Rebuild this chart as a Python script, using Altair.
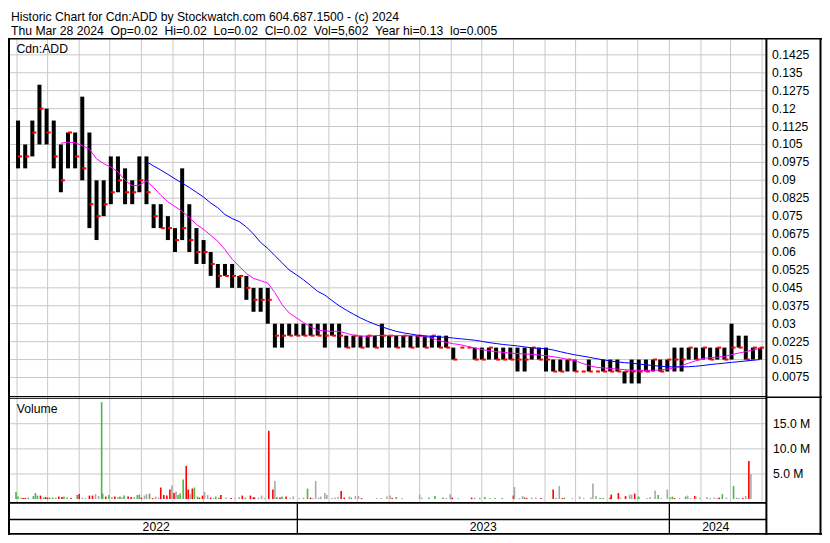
import altair as alt
import pandas as pd

FONT = "Liberation Sans"
W, H = 814, 527
GRID = "#c8c8c8"

# ---------------- text ----------------
header1 = "Historic Chart for Cdn:ADD by Stockwatch.com 604.687.1500 - (c) 2024"
header2 = "Thu Mar 28 2024  Op=0.02  Hi=0.02  Lo=0.02  Cl=0.02  Vol=5,602  Year hi=0.13  lo=0.005"
symbol = "Cdn:ADD"
vol_title = "Volume"

# ---------------- price data (weekly bars, first week centred on 2022-04-02) ----------------
first_week = "2022-04-02"
week_hi = [0.115, 0.105, 0.115, 0.13, 0.12, 0.115, 0.105, 0.11, 0.11, 0.125,
           0.11, 0.09, 0.09, 0.10, 0.10, 0.095, 0.09, 0.10, 0.10, 0.08,
           0.08, 0.075, 0.07, 0.095, 0.08, 0.07, 0.065, 0.06, 0.055, 0.055,
           0.055, 0.05, 0.05, 0.045, 0.045, 0.045, 0.03, 0.03, 0.03, 0.03,
           0.03, 0.03, 0.03, 0.03, 0.03, 0.03, 0.025, 0.025, 0.025, 0.025,
           0.025, 0.03, 0.025, 0.025, 0.025, 0.025, 0.025, 0.025, 0.025, 0.025,
           0.025, 0.02, 0.02, 0.02, 0.02, 0.02, 0.02, 0.02, 0.02, 0.02,
           0.02, 0.02, 0.02, 0.02, 0.02, 0.015, 0.015, 0.015, 0.015, 0.01,
           0.015, 0.01, 0.015, 0.015, 0.015, 0.01, 0.015, 0.015, 0.015, 0.015,
           0.015, 0.015, 0.02, 0.02, 0.02, 0.02, 0.02, 0.02, 0.02, 0.02,
           0.03, 0.025, 0.025, 0.02, 0.02]
week_lo = [0.095, 0.095, 0.10, 0.105, 0.105, 0.095, 0.085, 0.095, 0.095, 0.09,
           0.07, 0.065, 0.075, 0.08, 0.085, 0.08, 0.08, 0.085, 0.08, 0.07,
           0.07, 0.065, 0.06, 0.065, 0.06, 0.055, 0.055, 0.05, 0.045, 0.05,
           0.045, 0.045, 0.04, 0.035, 0.035, 0.03, 0.02, 0.02, 0.025, 0.025,
           0.025, 0.025, 0.025, 0.02, 0.025, 0.02, 0.02, 0.02, 0.02, 0.02,
           0.02, 0.02, 0.02, 0.02, 0.02, 0.02, 0.02, 0.02, 0.02, 0.02,
           0.02, 0.015, 0.02, 0.02, 0.015, 0.015, 0.015, 0.015, 0.015, 0.015,
           0.01, 0.01, 0.015, 0.015, 0.01, 0.01, 0.01, 0.01, 0.01, 0.01,
           0.01, 0.01, 0.01, 0.01, 0.01, 0.005, 0.005, 0.005, 0.01, 0.01,
           0.01, 0.01, 0.01, 0.01, 0.015, 0.015, 0.015, 0.015, 0.015, 0.015,
           0.015, 0.02, 0.015, 0.015, 0.015]
week_cl = [0.10, 0.10, 0.11, 0.12, 0.11, 0.10, 0.09, 0.11, 0.10, 0.095,
           0.08, 0.075, 0.08, 0.085, 0.09, 0.085, 0.085, 0.09, 0.085, 0.075,
           0.07, 0.07, 0.065, 0.07, 0.065, 0.06, 0.06, 0.055, 0.05, 0.05,
           0.05, 0.05, 0.045, 0.04, 0.04, 0.04, 0.025, 0.025, 0.025, 0.025,
           0.025, 0.025, 0.025, 0.025, 0.025, 0.025, 0.02, 0.025, 0.02, 0.025,
           0.02, 0.025, 0.025, 0.02, 0.025, 0.02, 0.025, 0.02, 0.025, 0.02,
           0.02, 0.015, 0.02, 0.02, 0.015, 0.015, 0.02, 0.015, 0.015, 0.015,
           0.015, 0.015, 0.02, 0.015, 0.015, 0.01, 0.01, 0.015, 0.01, 0.01,
           0.01, 0.01, 0.01, 0.01, 0.01, 0.01, 0.01, 0.01, 0.01, 0.015,
           0.01, 0.015, 0.015, 0.015, 0.02, 0.015, 0.02, 0.015, 0.02, 0.015,
           0.02, 0.02, 0.015, 0.02, 0.02]
# moving averages, same weekly dates (None = not yet defined)
ma_short = [None] * 6 + [
    0.1055, 0.106, 0.1057, 0.1045, 0.103, 0.099, 0.097, 0.0955, 0.0935, 0.09,
    0.0877, 0.088, 0.0897, 0.087, 0.0838, 0.081, 0.079, 0.077, 0.0745, 0.0715,
    0.0695, 0.067, 0.0645, 0.061, 0.057, 0.054, 0.051, 0.049, 0.048, 0.047,
    0.043, 0.038, 0.0345, 0.0325, 0.0305, 0.0288, 0.0272, 0.027, 0.0268, 0.0268,
    0.026, 0.0252, 0.0248, 0.0248, 0.025, 0.0251, 0.0251, 0.025, 0.025, 0.025,
    0.0249, 0.0247, 0.024, 0.0229, 0.0222, 0.0216, 0.0212, 0.0205, 0.0198, 0.0192,
    0.0187, 0.0183, 0.018, 0.0177, 0.0175, 0.0173, 0.0172, 0.0169, 0.0166, 0.0162,
    0.0157, 0.0151, 0.0146, 0.0135, 0.0125, 0.0118, 0.0115, 0.0113, 0.011, 0.0108,
    0.0105, 0.0105, 0.0105, 0.0105, 0.0107, 0.011, 0.0115, 0.0125, 0.0135, 0.0145,
    0.0155, 0.0158, 0.016, 0.0163, 0.017, 0.0177, 0.0183, 0.019, 0.0197]
ma_long = [None] * 18 + [
    0.0978, 0.096, 0.0943, 0.0925, 0.0906, 0.0888, 0.087, 0.085, 0.083, 0.0805,
    0.0785, 0.0757, 0.074, 0.0727, 0.0705, 0.0675, 0.064, 0.0615, 0.0585, 0.0555,
    0.0525, 0.0505, 0.0484, 0.046, 0.0435, 0.042, 0.0397, 0.0375, 0.0357, 0.034,
    0.0324, 0.031, 0.0298, 0.0287, 0.0277, 0.0268, 0.0262, 0.0257, 0.0252, 0.0249,
    0.0247, 0.0245, 0.0243, 0.024, 0.0237, 0.0234, 0.0231, 0.0226, 0.0221, 0.0217,
    0.0213, 0.021, 0.0207, 0.0203, 0.0199, 0.0197, 0.0195, 0.019, 0.0183, 0.0176,
    0.017, 0.0165, 0.016, 0.0154, 0.0149, 0.0144, 0.014, 0.0137, 0.0135, 0.0131,
    0.0128, 0.0125, 0.0122, 0.012, 0.0119, 0.0119, 0.012, 0.0122, 0.0125, 0.0129,
    0.0132, 0.0135, 0.0138, 0.0141, 0.0144, 0.0147, 0.015]

# ---------------- volume data (calendar days after 2022-03-30, millions, up/down/unch) ----------------
vol_start = "2022-03-30"
vol_day = [1, 3, 6, 8, 10, 13, 18, 20, 22, 25, 28, 30, 32, 34, 37, 40, 43, 46, 48, 51,
           55, 61, 63, 66, 69, 73, 76, 79, 82, 85, 86, 89, 92, 95, 98, 101, 103, 105, 107, 111,
           114, 117, 120, 122, 124, 127, 129, 132, 135, 138, 141, 143, 146, 149, 152, 154, 156, 158, 160, 162,
           165, 168, 170, 172, 174, 176, 179, 181, 184, 186, 189, 192, 195, 197, 200, 202, 207, 212, 216, 220,
           223, 226, 231, 234, 235, 239, 242, 245, 249, 253, 255, 257, 260, 262, 266, 270, 273, 279, 283, 287,
           290, 292, 295, 298, 300, 304, 306, 311, 314, 317, 320, 323, 328, 330, 334, 337, 340, 355, 359, 365,
           368, 370, 374, 380, 397, 399, 406, 412, 420, 423, 427, 429, 435, 448, 451, 456, 461, 466, 471, 478,
           489, 490, 495, 498, 500, 502, 507, 511, 516, 528, 531, 534, 537, 539, 547, 554, 558, 565, 567, 570,
           574, 577, 584, 585, 592, 594, 599, 603, 605, 608, 611, 612, 620, 623, 628, 631, 634, 640, 643, 645,
           647, 652, 658, 660, 663, 667, 668, 672, 679, 682, 686, 689, 691, 694, 698, 705, 708, 710, 714, 717,
           720, 722]
vol_m = [1.4, 0.5, 0.3, 0.2, 0.2, 0.3, 0.6, 1.2, 0.7, 0.7, 0.3, 0.4, 0.3, 0.3, 0.3, 0.3, 0.5, 0.4, 0.5, 0.3,
         0.2, 0.8, 1.0, 0.3, 0.2, 0.7, 0.7, 1.0, 0.6, 19.3, 1.1, 0.5, 0.8, 0.4, 0.5, 0.4, 0.5, 0.3, 0.7, 0.5,
         0.4, 0.4, 0.8, 0.9, 0.3, 0.7, 1.0, 1.1, 0.2, 0.5, 0.3, 2.3, 0.8, 0.7, 1.9, 2.7, 1.2, 1.5, 0.8, 1.1,
         3.9, 6.6, 1.9, 1.0, 2.1, 2.3, 0.5, 0.3, 0.7, 1.4, 0.8, 0.3, 0.2, 0.5, 0.3, 0.8, 0.3, 0.2, 0.2, 0.4,
         0.7, 0.3, 0.7, 0.4, 0.3, 0.3, 0.7, 0.2, 13.6, 1.9, 3.6, 0.4, 0.3, 0.5, 0.5, 0.2, 0.5, 0.2, 0.3, 2.1,
         0.3, 0.2, 3.6, 0.3, 0.5, 1.2, 0.8, 0.2, 0.3, 0.4, 1.6, 0.3, 0.5, 0.3, 0.6, 0.6, 0.2, 0.2, 0.2, 0.5,
         0.7, 0.2, 0.4, 0.2, 0.9, 0.3, 0.3, 0.6, 0.3, 0.2, 1.0, 0.3, 0.2, 0.3, 0.3, 0.2, 0.4, 0.2, 0.2, 0.2,
         0.7, 2.4, 0.2, 0.6, 0.4, 0.2, 0.3, 0.3, 0.2, 1.9, 0.3, 2.6, 0.2, 0.3, 0.2, 0.5, 0.2, 0.3, 3.1, 0.6,
         0.2, 0.2, 0.3, 0.9, 1.2, 0.3, 0.6, 0.9, 0.9, 1.1, 0.3, 0.5, 0.2, 0.4, 1.7, 0.8, 0.2, 1.9, 0.3, 0.5,
         0.2, 0.2, 0.5, 0.7, 0.2, 0.6, 0.5, 0.2, 0.4, 0.2, 0.3, 0.1, 0.3, 1.0, 0.3, 2.6, 0.3, 0.2, 0.2, 0.6,
         7.6, 5.0]
vol_dir = ("g g x r r g g g g r  g r r g g x r r g g  r g r x x r r x x g  g r g x r x g x g r  "
           "r x g g r x x g r x  x r r r r x r x g g  g r r x r g g r r x  x r x g g r x r x x  "
           "r g r r r x x x r r  x g r g r x x x x g  r x x x x x x x x x  r r x g x x r x x x  "
           "x r g x x x g g g x  x r x r x g g x g g  r x x x g r x x r r  x x r g x x x x x x  "
           "g g r r r x r x x r  x g x x x g x x g g  r x g x x r x x x x  x r r g x g x x r x  "
           "r x").split()

# ---------------- axis ticks ----------------
price_tick_values = [0.1425, 0.135, 0.1275, 0.12, 0.1125, 0.105, 0.0975, 0.09, 0.0825, 0.075,
                     0.0675, 0.06, 0.0525, 0.045, 0.0375, 0.03, 0.0225, 0.015, 0.0075]
price_tick_labels = ["0.1425", "0.135", "0.1275", "0.12", "0.1125", "0.105", "0.0975", "0.09", "0.0825",
                     "0.075", "0.0675", "0.06", "0.0525", "0.045", "0.0375", "0.03", "0.0225", "0.015", "0.0075"]
vol_tick_values = [15e6, 10e6, 5e6]
vol_tick_labels = ["15.0 M", "10.0 M", "5.0 M"]
year_names = ["2022", "2023", "2024"]
date_start, date_end = "2022-03-30", "2024-04-01"


def ms(d):
    return int(pd.Timestamp(d).value // 10**6)


# ---------------- frames ----------------
weeks = pd.date_range(first_week, periods=len(week_hi), freq="7D")
bars = pd.DataFrame({"t": [ms(d) for d in weeks], "hi": week_hi, "lo": week_lo, "cl": week_cl})
ma_s = pd.DataFrame({"t": [ms(d) for d, v in zip(weeks, ma_short) if v is not None],
                     "v": [v for v in ma_short if v is not None]})
ma_l = pd.DataFrame({"t": [ms(d) for d, v in zip(weeks, ma_long) if v is not None],
                     "v": [v for v in ma_long if v is not None]})
n = min(len(vol_day), len(vol_m), len(vol_dir))
vstart = pd.Timestamp(vol_start)
vol = pd.DataFrame({"t": [ms(vstart + pd.Timedelta(days=d)) for d in vol_day[:n]],
                    "v": [m * 1e6 for m in vol_m[:n]], "dir": vol_dir[:n]})
months = pd.DataFrame({"t": [ms(d) for d in pd.date_range("2022-04-01", date_end, freq="MS")]})
months = months[months.t > ms(date_start)]
ybounds = [ms(date_start), ms("2023-01-01"), ms("2024-01-01"), ms(date_end)]
years_df = pd.DataFrame({"t": [(ybounds[i] + ybounds[i + 1]) / 2 for i in range(3)], "y": year_names})
ysep = pd.DataFrame({"t": ybounds[1:3]})
ptick = pd.DataFrame({"v": price_tick_values, "lab": price_tick_labels})
vtick = pd.DataFrame({"v": vol_tick_values, "lab": vol_tick_labels})
one = pd.DataFrame({"k": [0]})

# ---------------- scales (pixel layout) ----------------
PX0, PX1 = 2, 759.1          # plot area left / right
DIV = 758.4                  # plot / label divider
xs = alt.Scale(domain=[ms(date_start), ms(date_end)], range=[PX0, PX1], nice=False)
ps = alt.Scale(domain=[0, 0.149], range=[387.4, 31.3], nice=False, zero=False)
vs = alt.Scale(domain=[0, 20e6], range=[491.1, 390.6], nice=False)

X = lambda: alt.X("t:T", scale=xs, axis=None)


def hline(y, x1, x2, w, color="black"):
    return alt.Chart(one).mark_rule(color=color, strokeWidth=w).encode(
        x=alt.value(x1), x2=alt.value(x2), y=alt.value(y))


def vline(x, y1, y2, w, color="black"):
    return alt.Chart(one).mark_rule(color=color, strokeWidth=w).encode(
        x=alt.value(x), y=alt.value(y1), y2=alt.value(y2))


def label(txt, x, y, size=12.2, align="left", baseline="alphabetic"):
    return alt.Chart(one).mark_text(text=txt, font=FONT, fontSize=size, align=align,
                                    baseline=baseline, color="black").encode(
        x=alt.value(x), y=alt.value(y))


price_grid = alt.Chart(ptick).mark_rule(color=GRID, strokeWidth=1).encode(
    x=alt.value(PX0), x2=alt.value(DIV - 1), y=alt.Y("v:Q", scale=ps, axis=None))
vol_grid = alt.Chart(vtick).mark_rule(color=GRID, strokeWidth=1).encode(
    x=alt.value(PX0), x2=alt.value(DIV - 1), y=alt.Y("v:Q", scale=vs, axis=None))
month_grid = alt.Chart(months).mark_rule(color=GRID, strokeWidth=1).encode(
    x=X(), y=alt.value(31.3), y2=alt.value(494))

vol_bars = alt.Chart(vol).mark_bar(width=1.6).encode(
    x=X(), y=alt.Y("v:Q", scale=vs, axis=None),
    color=alt.Color("dir:N", scale=alt.Scale(domain=["g", "r", "x"],
                                             range=["#4cb54c", "#ff0000", "#a9a9a9"]), legend=None))

price_bars = alt.Chart(bars).mark_rule(color="black", strokeWidth=4).encode(
    x=X(), y=alt.Y("hi:Q", scale=ps, axis=None), y2="lo:Q")
close_ticks = alt.Chart(bars).mark_rule(color="#ff0000", strokeWidth=2, xOffset=0, x2Offset=4).encode(
    x=X(), x2="t:T", y=alt.Y("cl:Q", scale=ps, axis=None))
line_s = alt.Chart(ma_s).mark_line(color="#ff00ff", strokeWidth=1).encode(
    x=X(), y=alt.Y("v:Q", scale=ps, axis=None))
line_l = alt.Chart(ma_l).mark_line(color="#0000ff", strokeWidth=1).encode(
    x=X(), y=alt.Y("v:Q", scale=ps, axis=None))

price_labels = alt.Chart(ptick).mark_text(font=FONT, fontSize=12.2, align="left", baseline="middle",
                                          color="#000").encode(
    x=alt.value(764), y=alt.Y("v:Q", scale=ps, axis=None), text="lab:N")
vol_labels = alt.Chart(vtick).mark_text(font=FONT, fontSize=12.2, align="left", baseline="middle",
                                        color="#000").encode(
    x=alt.value(765), y=alt.Y("v:Q", scale=vs, axis=None), text="lab:N")
year_labels = alt.Chart(years_df).mark_text(font=FONT, fontSize=12.2, align="center",
                                            baseline="alphabetic", color="#000").encode(
    x=X(), y=alt.value(522.6), text="y:N")
year_sep = alt.Chart(ysep).mark_rule(color="black", strokeWidth=1.3).encode(
    x=X(), y=alt.value(495.6), y2=alt.value(525))

frame = [
    hline(30.8, 0, W, 1.6),          # top
    vline(1, 30, H, 2),              # left
    vline(DIV, 30, H, 2),            # plot / label divider
    vline(812.5, 30, H, 2),          # right
    hline(388.5, 0, DIV, 1),         # price / volume double line
    hline(390.3, 0, DIV, 1),
    hline(389.2, DIV, W, 1.4),
    hline(494.8, 0, DIV, 1.7),       # volume bottom
    hline(511.4, 0, DIV, 1.5),       # month row bottom
    hline(525.9, 0, W, 1.8),         # bottom
]

texts = [
    label(header1, 3, 12.9),
    label(header2.replace("  ", "\u00a0 "), 3, 26.5),
    label(symbol, 8.5, 45.2),
    label(vol_title, 8.8, 405.4),
]

chart = alt.layer(
    price_grid, vol_grid, month_grid, vol_bars, price_bars, close_ticks, line_s, line_l,
    *frame, year_sep, price_labels, vol_labels, year_labels, *texts
).resolve_scale(y="independent").properties(
    width=W, height=H, padding=0, autosize="none", background="white"
).configure_view(strokeWidth=0)

chart.save("out.html", embed_options={"renderer": "svg", "actions": False})
